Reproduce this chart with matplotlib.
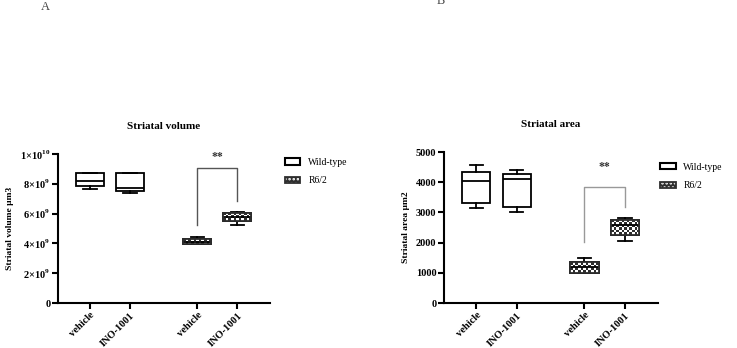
import matplotlib
matplotlib.use('Agg')
import numpy as np
import matplotlib.pyplot as plt
from matplotlib.patches import Patch, PathPatch
from matplotlib.colors import ListedColormap

plt.rcParams['font.family'] = ['Liberation Serif', 'DejaVu Serif']
plt.rcParams['mathtext.fontset'] = 'custom'
plt.rcParams['mathtext.rm'] = 'Liberation Serif:bold'
plt.rcParams['mathtext.bf'] = 'Liberation Serif:bold'
plt.rcParams['hatch.linewidth'] = 1.2

# groups / categories
groups = ['Wild-type', 'R6/2']
treatments = ['vehicle', 'INO-1001', 'vehicle', 'INO-1001']

# Striatal volume (units of 1e9 um3): whisker low, Q1, median, Q3, whisker high
vol_whislo = [7.65, 7.38, 3.94, 5.23]
vol_q1 = [7.87, 7.54, 3.94, 5.50]
vol_med = [8.21, 7.72, 4.12, 5.77]
vol_q3 = [8.72, 8.72, 4.30, 6.04]
vol_whishi = [8.72, 8.72, 4.43, 6.10]
vol_ticks = [0, 2, 4, 6, 8, 10]
vol_ticklabels = ['0', r'$2{\times}10^{9}$', r'$4{\times}10^{9}$', r'$6{\times}10^{9}$',
                  r'$8{\times}10^{9}$', r'$1{\times}10^{10}$']

# Striatal area (um2)
area_whislo = [3139, 3029, 980, 2060]
area_q1 = [3304, 3172, 980, 2258]
area_med = [4053, 4097, 1200, 2588]
area_q3 = [4350, 4262, 1344, 2753]
area_whishi = [4570, 4405, 1476, 2808]
area_ticks = [0, 1000, 2000, 3000, 4000, 5000]

# significance brackets: (left leg bottom, top, right leg bottom)
vol_bracket = [5.26, 9.06, 6.82]
area_bracket = [2004, 3833, 3194]

positions = [0, 1, 2.68, 3.68]
hatched = [False, False, True, True]
DARK = '#2e2e2e'
checker_cmap = ListedColormap([DARK, 'white'])

fig = plt.figure(figsize=(7.37, 3.48), dpi=100)
ax1 = fig.add_axes([0.0787, 0.1293, 0.2877, 0.4282])
ax2 = fig.add_axes([0.6024, 0.1293, 0.2904, 0.4339])


def checker_fill(ax, box, cell_px=2.5):
    # checkerboard texture clipped to the box
    bb = box.get_window_extent()
    ext = box.get_path().get_extents()
    nx = max(1, int(round(bb.width / cell_px)))
    ny = max(1, int(round(bb.height / cell_px)))
    board = np.add.outer(np.arange(ny), np.arange(nx)) % 2
    ax.imshow(board, cmap=checker_cmap, extent=(ext.x0, ext.x1, ext.y0, ext.y1),
              aspect='auto', interpolation='nearest', clip_path=box,
              zorder=box.get_zorder() + 0.05)


def draw_panel(ax, lo, q1, med, q3, hi, ticks, ticklabels, ymax, bracket, bcolor,
               ylabel, title, star_y, leg_anchor):
    ax.set_xlim(-0.8, 4.5)
    ax.set_ylim(0, ymax)
    stats = []
    for i in range(len(lo)):
        stats.append(dict(whislo=lo[i], q1=q1[i], med=med[i], q3=q3[i], whishi=hi[i]))
    bp = ax.bxp(stats, positions=positions, widths=0.7, capwidths=0.33,
                showfliers=False, patch_artist=True,
                boxprops=dict(facecolor='white', edgecolor='black', linewidth=1.3),
                medianprops=dict(color='black', linewidth=1.3),
                whiskerprops=dict(color='black', linewidth=1.3),
                capprops=dict(color='black', linewidth=1.3))
    ax.set_xlim(-0.8, 4.5)
    ax.set_ylim(0, ymax)
    for box, h in zip(bp['boxes'], hatched):
        if h:
            box.set_facecolor(DARK)
            checker_fill(ax, box)
            ax.add_patch(PathPatch(box.get_path(), facecolor='none', edgecolor=DARK,
                                   linewidth=1.3, zorder=box.get_zorder() + 0.1))
    ax.set_xlim(-0.8, 4.5)
    ax.set_ylim(0, ymax)
    # bracket
    x_l, x_r = positions[2], positions[3]
    ax.plot([x_l, x_l, x_r, x_r], [bracket[0], bracket[1], bracket[1], bracket[2]],
            color=bcolor, linewidth=1.0)
    ax.text((x_l + x_r) / 2, star_y, '**', ha='center', va='center',
            fontsize=8.5, fontweight='bold', color='#333333')

    ax.set_yticks(ticks)
    ax.set_yticklabels(ticklabels, fontsize=7.5, fontweight='bold')
    ax.set_xticks(positions)
    ax.set_xticklabels(treatments, rotation=45, ha='right', rotation_mode='anchor',
                       fontsize=7.5, fontweight='bold')
    for s in ['top', 'right']:
        ax.spines[s].set_visible(False)
    for s in ['left', 'bottom']:
        ax.spines[s].set_linewidth(1.5)
    ax.tick_params(width=1.5, length=4, pad=1.5)
    ax.set_ylabel(ylabel, fontsize=6.8, fontweight='bold')
    ax.set_title(title, fontsize=8, fontweight='bold', pad=18)

    wt_handle = Patch(facecolor='white', edgecolor='black', linewidth=1.5)
    r6_handle = (Patch(facecolor=DARK, edgecolor='white', hatch='....', linewidth=0),
                 Patch(facecolor='none', edgecolor=DARK, linewidth=1.3))
    ax.legend([wt_handle, r6_handle], groups, loc='upper left', bbox_to_anchor=leg_anchor,
              frameon=False, fontsize=7, handlelength=1.6, handleheight=0.65,
              handletextpad=0.8, labelspacing=1.0, borderpad=0, borderaxespad=0)


draw_panel(ax1, vol_whislo, vol_q1, vol_med, vol_q3, vol_whishi, vol_ticks,
           vol_ticklabels, 10, vol_bracket, '#555555',
           'Striatal volume \u00b5m3', 'Striatal volume', 9.8, (1.07, 0.975))
draw_panel(ax2, area_whislo, area_q1, area_med, area_q3, area_whishi, area_ticks,
           [str(t) for t in area_ticks], 5000, area_bracket, '#999999',
           'Striatal area \u00b5m2', 'Striatal area', 4515, (1.01, 0.93))

fig.text(41 / 737, 1 - 10 / 348, 'A', fontsize=9, color='#444444', va='baseline')
fig.text(437 / 737, 1 - 4 / 348, 'B', fontsize=9, color='#444444', va='baseline')

fig.savefig('out.png', dpi=100)
